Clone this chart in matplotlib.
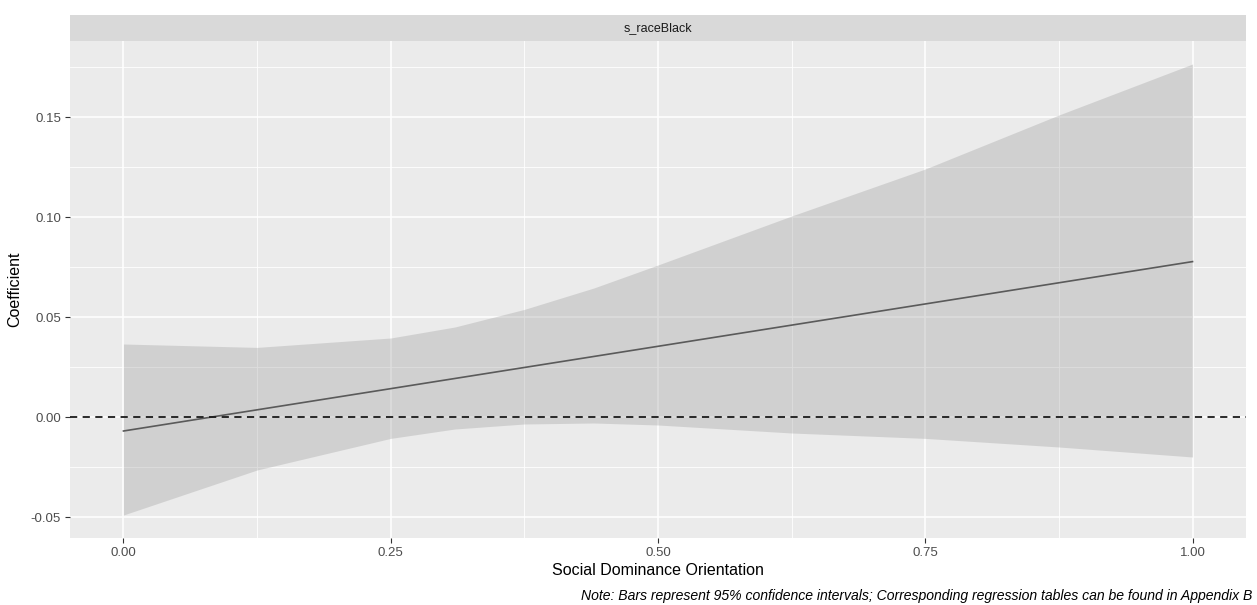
import numpy as np
import matplotlib.pyplot as plt

plt.rcParams['font.family'] = ['Liberation Sans', 'DejaVu Sans']

# marginal effect of s_raceBlack across SDO
sdo = [0.0, 0.125, 0.25, 0.31, 0.375, 0.44, 0.5, 0.625, 0.75, 0.875, 1.0]
ci_upper = [0.0365, 0.0348, 0.0395, 0.0450, 0.0538, 0.0645, 0.0760, 0.1005, 0.1240, 0.1510, 0.1765]
ci_lower = [-0.0490, -0.0265, -0.0107, -0.0060, -0.0035, -0.0030, -0.0040, -0.0080, -0.0107, -0.0150, -0.0200]
line_x = [0.0, 1.0]
line_coef = [-0.0070, 0.0777]

x_ticks = [0.0, 0.25, 0.5, 0.75, 1.0]
x_minor = [0.125, 0.375, 0.625, 0.875]
y_ticks = [-0.05, 0.0, 0.05, 0.10, 0.15]
y_minor = [-0.025, 0.025, 0.075, 0.125, 0.175]

W, H = 1257, 605
fig = plt.figure(figsize=(W / 100, H / 100), dpi=100)
fig.patch.set_facecolor('white')

left, right, top, bottom = 70, 1246, 41, 538
ax = fig.add_axes([left / W, (H - bottom) / H, (right - left) / W, (bottom - top) / H])
ax.set_facecolor('#EBEBEB')
for s in ax.spines.values():
    s.set_visible(False)

# ggplot-style grid
for v in x_minor:
    ax.axvline(v, color='white', lw=0.6, zorder=0)
for v in y_minor:
    ax.axhline(v, color='white', lw=0.6, zorder=0)
for v in x_ticks:
    ax.axvline(v, color='white', lw=1.1, zorder=0)
for v in y_ticks:
    ax.axhline(v, color='white', lw=1.1, zorder=0)

ax.fill_between(sdo, ci_lower, ci_upper, color='#999999', alpha=0.32, lw=0, zorder=1)
ax.plot(line_x, line_coef, color='#5A5A5A', lw=1.2, zorder=2)
ax.axhline(0, color='#1A1A1A', lw=1.3, dashes=(4, 3), zorder=3)

ax.set_xlim(-0.05, 1.05)
ax.set_ylim(-0.0605, 0.188)
ax.set_xticks(x_ticks)
ax.set_xticklabels(['0.00', '0.25', '0.50', '0.75', '1.00'])
ax.set_yticks(y_ticks)
ax.set_yticklabels(['-0.05', '0.00', '0.05', '0.10', '0.15'])
ax.tick_params(axis='both', length=3.5, width=0.8, color='#333333',
               labelcolor='#4D4D4D', labelsize=9.5, pad=3)

ax.set_xlabel('Social Dominance Orientation', fontsize=11.5, color='black', labelpad=3)
ax.set_ylabel('Coefficient', fontsize=11.5, color='black', labelpad=6)

# facet strip
strip = fig.add_axes([left / W, (H - top) / H, (right - left) / W, 26 / H])
strip.set_facecolor('#D9D9D9')
strip.set_xticks([])
strip.set_yticks([])
for s in strip.spines.values():
    s.set_visible(False)
strip.text(0.5, 0.5, 's_raceBlack', ha='center', va='center',
           fontsize=9, color='#1A1A1A', transform=strip.transAxes)

fig.text(1252 / W, 1 - 596 / H,
         'Note: Bars represent 95% confidence intervals; Corresponding regression tables can be found in Appendix B',
         ha='right', va='center', fontsize=10.1, style='italic', color='black')

fig.savefig('out.png', dpi=100)
